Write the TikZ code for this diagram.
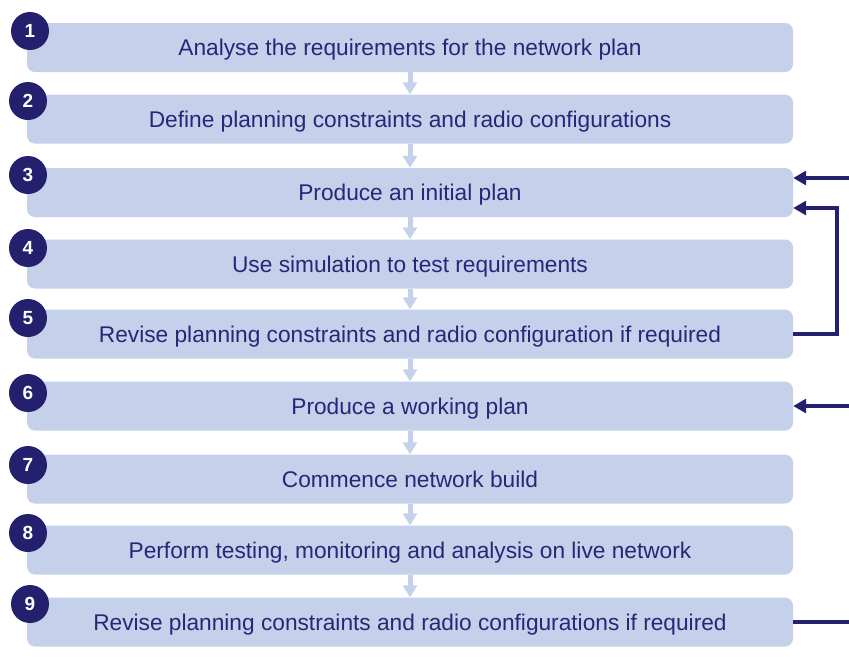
\documentclass[tikz,border=0pt]{standalone}
\usepackage{fontspec}
\setmainfont{Liberation Sans}
\usetikzlibrary{arrows.meta}
\definecolor{boxfill}{RGB}{197,208,234}
\definecolor{navy}{RGB}{36,32,110}
\definecolor{txt}{RGB}{40,38,120}
\begin{document}
\begin{tikzpicture}[x=1pt,y=-1pt,
 stepbox/.style={fill=boxfill, rounded corners=8pt, minimum width=766pt, minimum height=49pt, inner sep=0pt, text height=16.4pt, text depth=0pt, text=txt, font=\fontsize{22.7}{26}\selectfont},
 numcirc/.style={circle, fill=navy, minimum size=38pt, inner sep=0pt, text=white, font=\fontsize{19}{21}\selectfont\bfseries},
 downarr/.style={boxfill, line width=5pt, -{Triangle[width=14pt,length=12pt]}},
 fb/.style={navy, line width=4pt},
 fbarr/.style={fb, -{Triangle[width=14pt,length=13pt]}}]
\useasboundingbox (0,0) rectangle (849,657);
\node[stepbox] (b1) at (410,47.5) {Analyse the requirements for the network plan};
\node[stepbox] (b2) at (410,119) {Define planning constraints and radio configurations};
\node[stepbox] (b3) at (410,192.5) {Produce an initial plan};
\node[stepbox] (b4) at (410,264) {Use simulation to test requirements};
\node[stepbox] (b5) at (410,334) {Revise planning constraints and radio configuration if required};
\node[stepbox] (b6) at (410,406) {Produce a working plan};
\node[stepbox] (b7) at (410,479) {Commence network build};
\node[stepbox] (b8) at (410,550) {Perform testing, monitoring and analysis on live network};
\node[stepbox] (b9) at (410,622) {Revise planning constraints and radio configurations if required};
\foreach \a/\b in {b1/b2,b2/b3,b3/b4,b4/b5,b5/b6,b6/b7,b7/b8,b8/b9}
  \draw[downarr] (\a.south) -- (\b.north);
\node[numcirc] (c1) at (30,31) {1};
\node[numcirc] (c2) at (28,101) {2};
\node[numcirc] (c3) at (28,175) {3};
\node[numcirc] (c4) at (28,248) {4};
\node[numcirc] (c5) at (28,318) {5};
\node[numcirc] (c6) at (28,393) {6};
\node[numcirc] (c7) at (28,465) {7};
\node[numcirc] (c8) at (28,533) {8};
\node[numcirc] (c9) at (30,604) {9};
\coordinate (r3) at (849,178);
\coordinate (r6) at (849,406);
\coordinate (r9) at (849,622);
\coordinate (loopTop) at (837,208);
\coordinate (loopBot) at (837,334);
\draw[fbarr] (r3) -- (b3.east |- r3);
\draw[fbarr] (b5.east) -- (loopBot) -- (loopTop) -- (b3.east |- loopTop);
\draw[fbarr] (r6) -- (b6.east);
\draw[fb] (b9.east) -- (r9);
\end{tikzpicture}
\end{document}
